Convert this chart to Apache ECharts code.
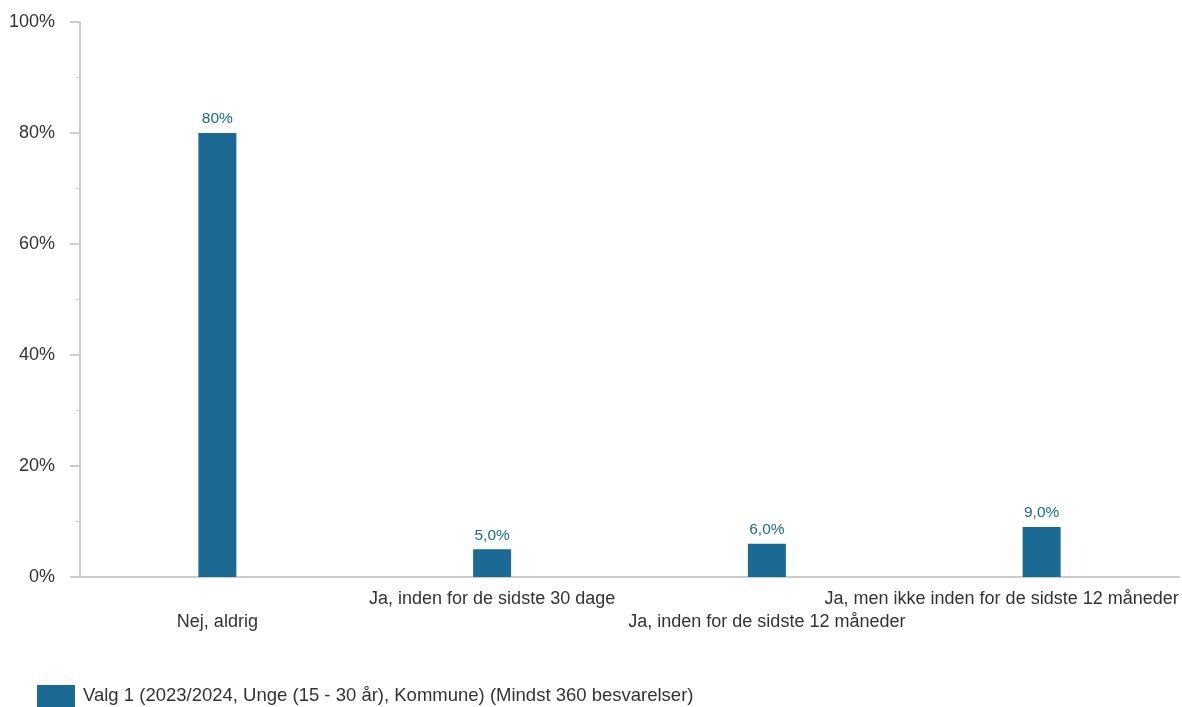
<!DOCTYPE html>
<html>
<head>
<meta charset="utf-8">
<script src="https://cdn.jsdelivr.net/npm/echarts@6/dist/echarts.min.js"></script>
<style>
  html, body { margin: 0; padding: 0; background: #fff; }
  #main { width: 1182px; height: 707px; }
</style>
</head>
<body>
<div id="main"></div>
<script>
    // data
    var categories = [
        'Nej, aldrig',
        'Ja, inden for de sidste 30 dage',
        'Ja, inden for de sidste 12 måneder',
        'Ja, men ikke inden for de sidste 12 måneder'
    ];
    var values = [80, 5, 6, 9];
    var valueLabels = ['80%', '5,0%', '6,0%', '9,0%'];
    var yTicks = [0, 20, 40, 60, 80, 100];
    var seriesName = 'Valg 1 (2023/2024, Unge (15 - 30 år), Kommune) (Mindst 360 besvarelser)';

    var barColor = '#1a6a93';
    var font = '"Liberation Sans", Arial, sans-serif';

    var chart = echarts.init(document.getElementById('main'));
    var option = {
        animation: false,
        grid: {
            left: 80,
            right: 3,
            top: 22,
            bottom: 130,
            containLabel: false,
            outerBoundsMode: 'none'
        },
        legend: {
            left: 37,
            bottom: 0,
            padding: 0,
            itemWidth: 38,
            itemHeight: 22,
            icon: 'rect',
            textStyle: {
                color: '#333',
                fontSize: 18.5,
                fontFamily: font,
                padding: [0, 0, 0, 3]
            },
            data: [seriesName]
        },
        xAxis: {
            type: 'category',
            data: categories,
            axisLine: {
                lineStyle: { color: '#cccccc', width: 2 }
            },
            axisTick: { show: false },
            axisLabel: {
                interval: 0,
                margin: 11,
                color: '#333',
                fontSize: 18,
                fontFamily: font,
                lineHeight: 23,
                formatter: function (value, index) {
                    // alternate rows so long labels don't overlap
                    if (index === categories.length - 1) {
                        return '{last|' + value + '}';
                    }
                    return index % 2 === 0 ? '\n' + value : value;
                },
                rich: {
                    last: {
                        fontSize: 18,
                        fontFamily: font,
                        color: '#333',
                        lineHeight: 23,
                        padding: [0, 80, 0, 0]
                    }
                }
            }
        },
        yAxis: {
            type: 'value',
            min: yTicks[0],
            max: yTicks[yTicks.length - 1],
            interval: 20,
            axisLine: {
                show: true,
                lineStyle: { color: '#cccccc', width: 2 }
            },
            axisTick: {
                show: true,
                length: 10,
                lineStyle: { color: '#cccccc', width: 2 }
            },
            minorTick: {
                show: true,
                splitNumber: 2,
                length: 4,
                lineStyle: { color: '#cccccc', width: 1 }
            },
            splitLine: { show: false },
            axisLabel: {
                margin: 25,
                color: '#333',
                fontSize: 18,
                fontFamily: font,
                formatter: '{value}%'
            }
        },
        series: [
            {
                name: seriesName,
                type: 'bar',
                data: values,
                barWidth: 38,
                itemStyle: { color: barColor },
                label: {
                    show: true,
                    position: 'top',
                    distance: 6,
                    color: barColor,
                    fontSize: 15.5,
                    fontFamily: font,
                    formatter: function (params) {
                        return valueLabels[params.dataIndex];
                    }
                }
            }
        ]
    };
    chart.setOption(option);
</script>
</body>
</html>
